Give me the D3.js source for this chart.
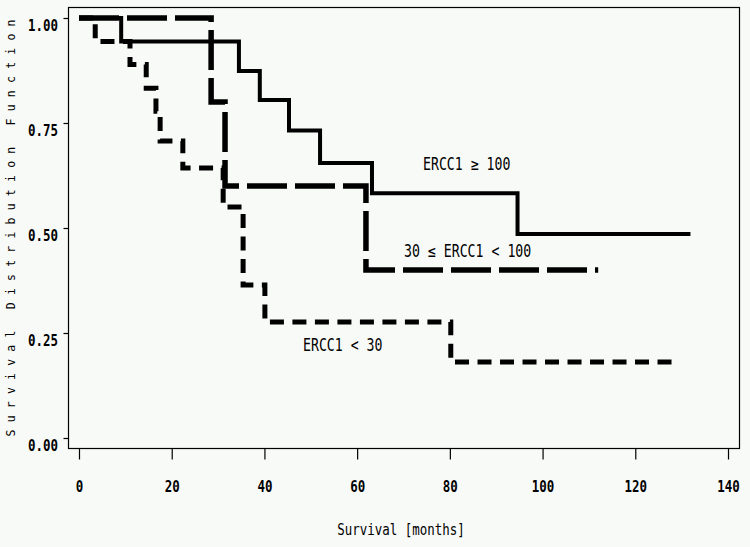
<!DOCTYPE html>
<html>
<head>
<meta charset="utf-8">
<script src="https://cdn.jsdelivr.net/npm/d3@7"></script>
<style>
  html, body { margin: 0; padding: 0; background: #f8faf8; }
  svg { display: block; }
  text { font-family: "DejaVu Sans Mono", "Liberation Mono", monospace; fill: #000; }
</style>
</head>
<body>
<svg id="chart" width="750" height="547"></svg>
<script>
// ---------- data ----------
const xTicks = [0, 20, 40, 60, 80, 100, 120, 140];
const yTicks = [0, 0.25, 0.5, 0.75, 1.0];
const yTickLabels = ["0.00", "0.25", "0.50", "0.75", "1.00"];

// ERCC1 >= 100 (solid)
const highTimes = [0, 9.1, 34.5, 39.0, 45.3, 52.0, 63.2, 94.6, 131.9];
const highSurv  = [1.0, 0.944, 0.874, 0.805, 0.732, 0.655, 0.583, 0.486, 0.486];

// 30 <= ERCC1 < 100 (long dash)
const midTimes = [0, 28.5, 31.5, 61.9, 112.0];
const midSurv  = [1.0, 0.8, 0.6, 0.4, 0.4];

// ERCC1 < 30 (short dash)
const lowTimes = [0, 3.5, 11.0, 14.5, 16.6, 17.5, 22.4, 31.1, 35.4, 40.1, 80.2, 128.0];
const lowSurv  = [1.0, 0.944, 0.889, 0.833, 0.778, 0.707, 0.643, 0.55, 0.364, 0.276, 0.181, 0.181];

const curveLabels = ["ERCC1 \u2265 100", "30 \u2264 ERCC1 < 100", "ERCC1 < 30"];
const curveLabelAt = [[423, 170], [404, 257], [303, 351]]; // [x, baseline] in px
const xTitle = "Survival [months]";
const yTitle = "Survival Distribution Function";

// ---------- layout ----------
const svg = d3.select("#chart");
const frame = {left: 68, right: 739, top: 7, bottom: 448};
const x = d3.scaleLinear().domain([0, 140]).range([79, 728]);
const y = d3.scaleLinear().domain([0, 1]).range([438, 18]);
const SX = 0.755;  // horizontal condensation of the monospace font
const FS = 16.5;

svg.append("rect").attr("x", 0).attr("y", 0).attr("width", 750).attr("height", 547).attr("fill", "#f8faf8");

// frame
svg.append("rect")
  .attr("x", frame.left + 0.5).attr("y", frame.top + 0.5)
  .attr("width", frame.right - frame.left).attr("height", frame.bottom - frame.top)
  .attr("fill", "none").attr("stroke", "#000").attr("stroke-width", 1.2);

// x axis
const xAxis = svg.append("g")
  .attr("transform", `translate(0,${frame.bottom + 0.5})`)
  .call(d3.axisBottom(x).tickValues(xTicks).tickSize(11).tickSizeOuter(0).tickFormat(d3.format("d")));
xAxis.select(".domain").remove();
xAxis.selectAll(".tick line").attr("stroke", "#000").attr("stroke-width", 1.2);
xAxis.selectAll(".tick text")
  .attr("y", 43.5).attr("dy", 0)
  .attr("transform", `scale(${SX},1)`)
  .style("font-size", FS + "px").style("font-family", "DejaVu Sans Mono").style("font-weight", "bold");

// y axis
const yAxis = svg.append("g")
  .attr("transform", `translate(${frame.left + 0.5},0)`)
  .call(d3.axisLeft(y).tickValues(yTicks).tickSize(5).tickSizeOuter(0)
        .tickFormat((d, i) => yTickLabels[i]));
yAxis.select(".domain").remove();
yAxis.selectAll(".tick line").attr("stroke", "#000").attr("stroke-width", 1.2);
yAxis.selectAll(".tick text")
  .attr("x", -10.5 / SX).attr("dy", 0).attr("y", 12)
  .attr("text-anchor", "end")
  .attr("transform", `scale(${SX},1)`)
  .style("font-size", FS + "px").style("font-family", "DejaVu Sans Mono").style("font-weight", "bold");

// curves
const line = d3.line().x(d => x(d[0])).y(d => y(d[1])).curve(d3.curveStepAfter);
const series = [
  {t: highTimes, s: highSurv, w: 4,   dash: null},
  {t: midTimes,  s: midSurv,  w: 5.5, dash: "40,8"},
  {t: lowTimes,  s: lowSurv,  w: 5,   dash: "14,8.5"}
];
series.forEach(sr => {
  const pts = sr.t.map((t, i) => [t, sr.s[i]]);
  const p = svg.append("path").datum(pts)
    .attr("d", line).attr("fill", "none").attr("stroke", "#000")
    .attr("stroke-width", sr.w).attr("stroke-linecap", "butt").attr("stroke-linejoin", "miter");
  if (sr.dash) p.attr("stroke-dasharray", sr.dash);
});

// curve labels
function condensedText(str, px, py, anchor, size, weight) {
  svg.append("g").attr("transform", `translate(${px},${py}) scale(${SX},1)`)
    .append("text").attr("x", 0).attr("y", 0)
    .attr("text-anchor", anchor)
    .style("font-size", size + "px").style("font-weight", weight || "normal")
    .text(str);
}
curveLabels.forEach((lab, i) => condensedText(lab, curveLabelAt[i][0], curveLabelAt[i][1], "start", 17.5, "normal"));

// axis titles
condensedText(xTitle, 401, 535, "middle", FS, "normal");
svg.append("text")
  .attr("transform", "translate(15,228) rotate(-90)")
  .attr("text-anchor", "middle")
  .attr("textLength", 417).attr("lengthAdjust", "spacing")
  .style("font-size", "11.5px")
  .text(yTitle);
</script>
</body>
</html>
